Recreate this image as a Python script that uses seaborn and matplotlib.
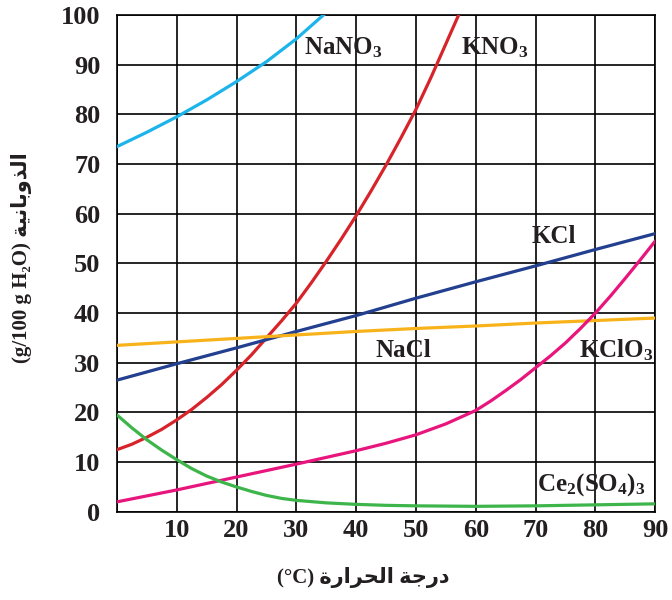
import pandas as pd
import matplotlib
matplotlib.use("Agg")
import matplotlib.pyplot as plt
import seaborn as sns

# --- data ---
nano3_t = [0, 5, 10, 15, 20, 25, 30, 35]
nano3_s = [73.5, 76.4, 79.5, 82.9, 86.6, 90.6, 95.2, 100.5]

kno3_t = [0, 2.5, 5, 7.5, 10, 12.5, 15, 17.5, 20, 22.5, 25, 27.5, 30, 32.5, 35,
          37.5, 40, 42.5, 45, 47.5, 50, 52.5, 55, 57.5, 60]
kno3_s = [12.5, 13.6, 15, 16.6, 18.5, 20.6, 23, 25.6, 28.5, 31.6, 35, 38.4, 42, 46.1, 50.4,
          54.9, 59.6, 64.6, 69.8, 75.3, 81, 87.4, 94.2, 101, 108]

kcl_t = [0, 10, 20, 30, 40, 50, 60, 70, 80, 90]
kcl_s = [26.5, 29.8, 33, 36.3, 39.5, 43, 46.3, 49.5, 52.8, 56]

nacl_t = [0, 10, 20, 30, 40, 50, 60, 70, 80, 90]
nacl_s = [33.5, 34.2, 34.9, 35.6, 36.3, 36.9, 37.4, 38, 38.5, 39]

kclo3_t = [0, 10, 20, 30, 40, 45, 50, 55, 60, 62.5, 65, 67.5, 70, 72.5, 75,
           77.5, 80, 82.5, 85, 87.5, 90]
kclo3_s = [2, 4.4, 7, 9.6, 12.3, 13.8, 15.5, 17.7, 20.4, 22.3, 24.4, 26.6, 29, 31.4, 34,
           36.9, 40, 43.4, 47, 50.7, 54.5]

ce_t = [0, 2.5, 5, 7.5, 10, 12.5, 15, 17.5, 20, 22.5, 25, 27.5, 30, 35, 40, 45, 50,
        60, 70, 80, 90]
ce_s = [19.5, 16.9, 14.5, 12.4, 10.5, 8.7, 7.2, 6, 5, 4.1, 3.3, 2.7, 2.3, 1.8, 1.5, 1.3, 1.2,
        1.1, 1.2, 1.4, 1.6]

names = ["NaNO3", "KNO3", "KCl", "NaCl", "KClO3", "Ce2(SO4)3"]
colors = ["#1cb4ea", "#d7232a", "#233f8f", "#f8b31a", "#e8157d", "#3db54a"]

# --- long table for seaborn ---
rows = []
for name, ts, ss in zip(names,
                        [nano3_t, kno3_t, kcl_t, nacl_t, kclo3_t, ce_t],
                        [nano3_s, kno3_s, kcl_s, nacl_s, kclo3_s, ce_s]):
    for t, s in zip(ts, ss):
        rows.append({"compound": name, "temp": t, "sol": s})
df = pd.DataFrame(rows)

sns.set_style("white")
plt.rcParams["font.family"] = ["Liberation Serif", "DejaVu Sans"]
plt.rcParams["mathtext.fontset"] = "custom"
plt.rcParams["mathtext.rm"] = "Liberation Serif:bold"
plt.rcParams["mathtext.it"] = "Liberation Serif:bold"
plt.rcParams["mathtext.bf"] = "Liberation Serif:bold"

fig = plt.figure(figsize=(6.72, 6), dpi=100)
ax = fig.add_axes([0.174, 0.147, 0.801, 0.828])

sns.lineplot(data=df, x="temp", y="sol", hue="compound", palette=dict(zip(names, colors)),
             estimator=None, sort=False, linewidth=2.3, legend=False, ax=ax, zorder=3)

ax.set_xlim(0, 90)
ax.set_ylim(0, 100)
ax.set_xlabel("")
ax.set_ylabel("")
ax.set_xticks(range(0, 91, 10))
ax.set_xticklabels([""] + [str(v) for v in range(10, 91, 10)])
ax.set_yticks(range(0, 101, 10))
ax.grid(True, color="black", linewidth=1.2)
for sp in ax.spines.values():
    sp.set_color("black")
    sp.set_linewidth(1.2)
ax.tick_params(axis="both", length=0, labelsize=19, labelcolor="#231f20")
ax.tick_params(axis="y", pad=12)
ax.tick_params(axis="x", pad=5)
for lab in ax.get_xticklabels() + ax.get_yticklabels():
    lab.set_fontweight("bold")

# curve labels
lab_kw = dict(fontsize=18, fontweight="bold", color="#231f20", zorder=4)
ax.text(31.2, 93.5, r"NaNO$_\mathrm{3}$", va="center", ha="left", **lab_kw)
ax.text(57.6, 93.5, r"KNO$_\mathrm{3}$", va="center", ha="left", **lab_kw)
ax.text(69.3, 55.5, "KCl", va="center", ha="left", **lab_kw)
ax.text(43.3, 32.5, "NaCl", va="center", ha="left", **lab_kw)
ax.text(77.3, 32.5, r"KClO$_\mathrm{3}$", va="center", ha="left", **lab_kw)
ax.text(70.3, 5.5, r"Ce$_\mathrm{2}$(SO$_\mathrm{4}$)$_\mathrm{3}$", va="center", ha="left", **lab_kw)

# axis labels (Arabic written in presentation forms, visual order)
solubility = "\uFE94\uFEF4\uFEE7\uFE8E\uFE91\uFEED\uFEAC\uFEDF\uFE8D"
daraja = "\uFE94\uFE9F\uFEAD\uFEA9"
harara = "\uFE93\uFEAD\uFE8D\uFEAE\uFEA4\uFEDF\uFE8D"

fig.text(0.032, 0.57, "(g/100 g H\u2082O) " + solubility, rotation=90,
         ha="center", va="center", fontsize=15, fontweight="bold", color="#231f20",
         family=["Liberation Serif", "DejaVu Sans"])
fig.text(0.54, 0.037, "(\u00b0C) " + harara + " " + daraja,
         ha="center", va="center", fontsize=15, fontweight="bold", color="#231f20",
         family=["Liberation Serif", "DejaVu Sans"])

fig.savefig("out.png", dpi=100)
